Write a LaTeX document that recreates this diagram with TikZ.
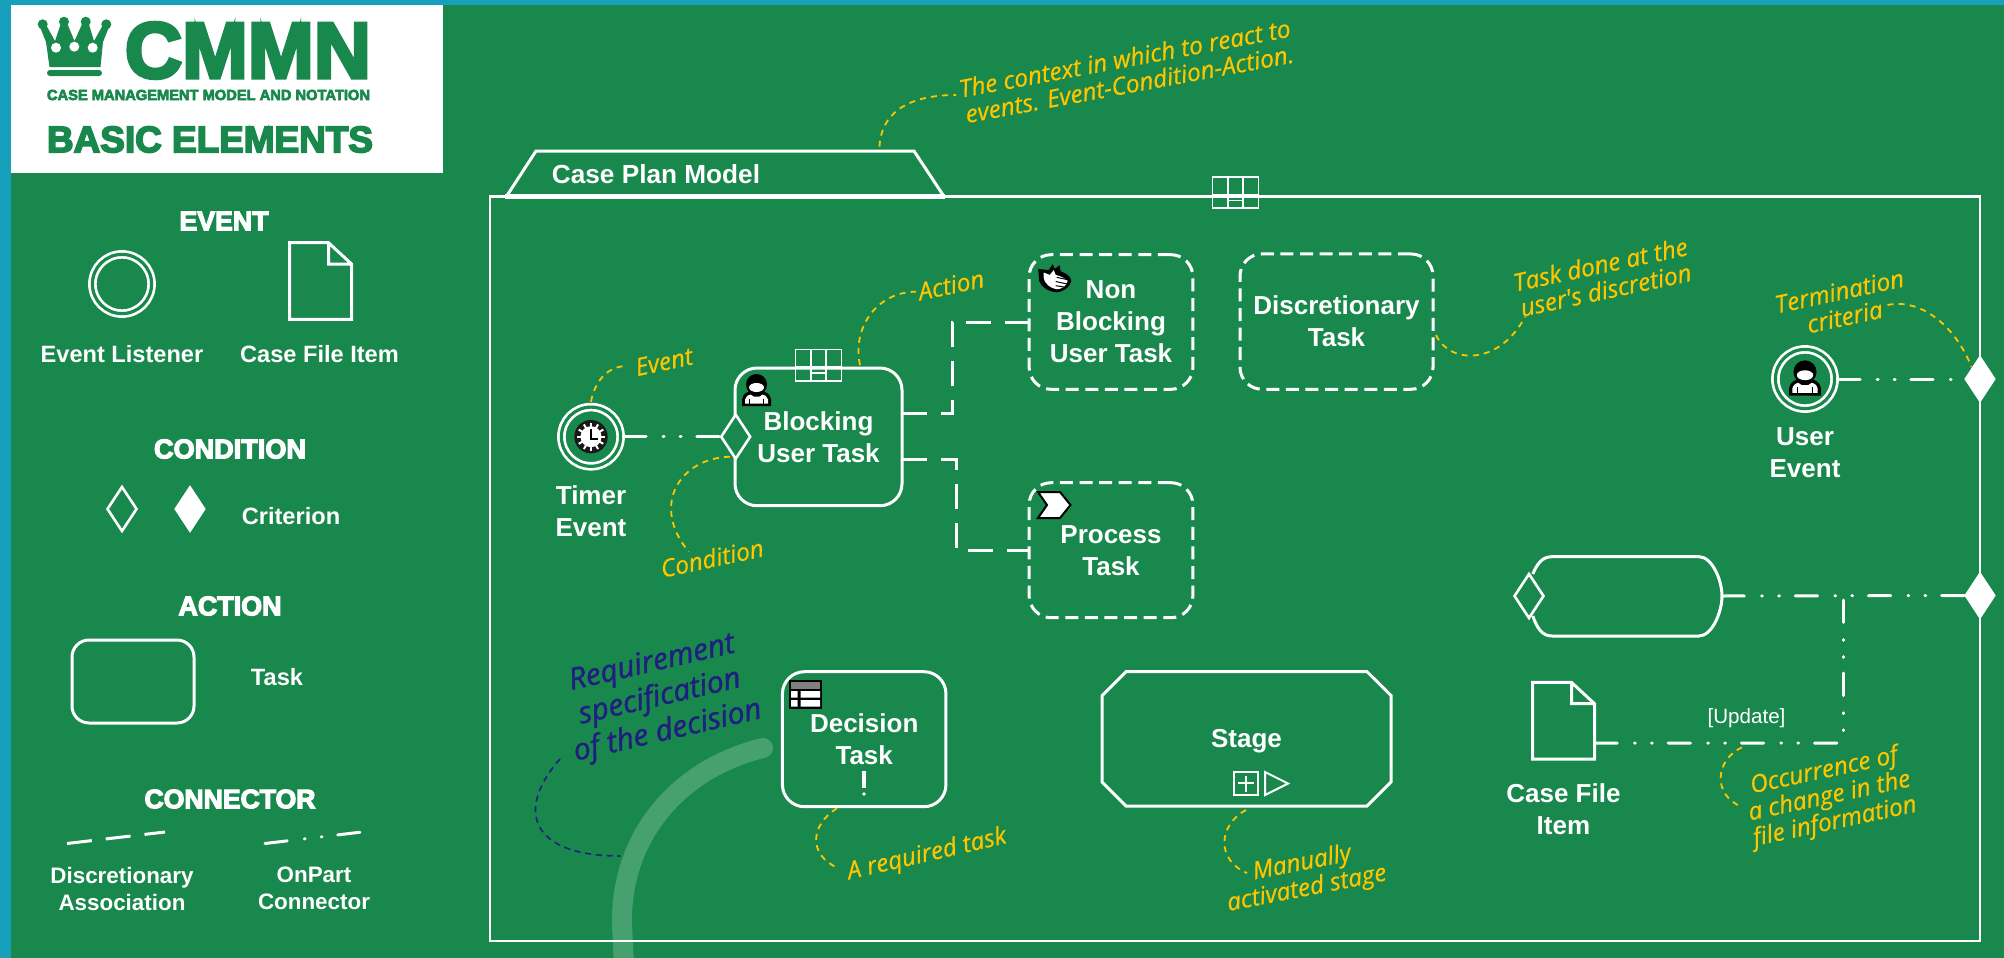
\documentclass[tikz,border=0pt]{standalone}
\usepackage{fontspec}
\usetikzlibrary{shapes.geometric,shapes.misc}
\setmainfont{Liberation Sans}
\newfontfamily\heavyf[FakeBold=4.5]{Liberation Sans Bold}
\newfontfamily\annof[FakeBold=0.5]{Open Sans}
\newfontfamily\annoheavy[FakeBold=1.2]{Open Sans}
\definecolor{bgteal}{RGB}{23,160,187}
\definecolor{bggreen}{RGB}{24,136,76}
\definecolor{arcgreen}{RGB}{70,160,112}
\definecolor{noteyellow}{RGB}{255,198,0}
\definecolor{notenavy}{RGB}{32,30,128}
\newcommand{\heavyfit}[2]{\resizebox{\dimexpr #1pt/2\relax}{!}{\heavyf #2}}
\tikzset{
  sized/.style 2 args={minimum width=#1*0.5pt,minimum height=#2*0.5pt},
  plain/.style={inner sep=0pt,outer sep=0pt,text=white,align=center},
  tasktext/.style={font=\bfseries\fontsize{13}{16}\selectfont},
  legendtext/.style={plain,font=\bfseries\fontsize{11.8}{13.5}\selectfont},
  taskbox/.style={plain,tasktext,draw=white,line width=1.5pt,rounded corners=11pt},
  dashbox/.style={taskbox,dash pattern=on 6.5pt off 3.3pt},
  stagebox/.style={plain,tasktext,draw=white,line width=1.5pt,chamfered rectangle,
    chamfered rectangle xsep=7.5pt,chamfered rectangle ysep=7.5pt,text depth=0pt},
  opencrit/.style={diamond,draw=white,fill=bggreen,line width=1.3pt,inner sep=0pt,outer sep=0pt,sized={29}{44}},
  fullcrit/.style={diamond,draw=white,fill=white,line width=1pt,inner sep=0pt,outer sep=0pt,sized={29}{44}},
  ring/.style={circle,draw=white,double=bggreen,double distance=1.6pt,line width=1.35pt,inner sep=0pt,outer sep=1.5pt,minimum size=29.6pt},
  discline/.style={draw=white,line width=1.5pt,dash pattern=on 12.5pt off 7pt},
  onpart/.style={draw=white,line width=1.5pt,line cap=round,dash pattern=on 11.2pt off 8.6pt on 0.4pt off 8.1pt on 0.4pt off 7.9pt},
  noteline/.style={draw=noteyellow,line width=0.9pt,dash pattern=on 3pt off 2.6pt},
  navyline/.style={draw=notenavy,line width=0.8pt,dash pattern=on 3pt off 2.4pt},
  notetext/.style={inner sep=0pt,outer sep=0pt,align=center,text=noteyellow,font=\annof\itshape\fontsize{12.2}{13}\selectfont,rotate=#1},
  notetext/.default=12,
  navytext/.style={inner sep=0pt,outer sep=0pt,align=center,text=notenavy,font=\annoheavy\itshape\fontsize{15}{17.5}\selectfont,rotate=13},
  tableicon/.pic={
    \draw[white,line width=0.8pt] (-23,-15.7) rectangle (23,15.7)
      (-7.7,-15.7) -- (-7.7,15.7) (7.7,-15.7) -- (7.7,15.7)
      (-23,2) -- (23,2) (-7.7,8) -- (7.7,8);},
  docicon/.pic={
    \draw[white,line width=1.5pt,line join=miter] (-31,-38.3) -- (8,-38.3) -- (31,-17) -- (31,38.3) -- (-31,38.3) -- cycle
      (8,-38.3) -- (8,-17) -- (31,-17);},
  personicon/.pic={
    \fill[black] (-14.5,15.5) -- (-14.5,9) .. controls (-14,3) and (-8,1) .. (-5,0) -- (5,0) .. controls (8,1) and (14,3) .. (14.5,9) -- (14.5,15.5) -- cycle;
    \fill[black] (0,-6) circle [x radius=10.5,y radius=10.5];
    \fill[white] (0,-3) circle [x radius=7.5,y radius=4.5];
    \fill[white] (-11.5,13) -- (-11.5,9) .. controls (-11,6) and (-8,4) .. (-6,4) -- (-3,6) -- (3,6) -- (6,4) .. controls (8,4) and (11,6) .. (11.5,9) -- (11.5,13) -- cycle;
    \draw[black,line width=0.5pt] (-7,8) -- (-7,13) (7,8) -- (7,13);},
  clockicon/.pic={
    \fill[black!90] (0,0) circle (16.7);
    \fill[white] (0,0) circle (10.5);
    \foreach \a in {0,30,...,330} {\draw[white,line width=1pt] (0,0) -- (\a:14.2);}
    \draw[black,line width=1pt,line join=miter] (0,-7.5) -- (0,2) -- (7,2);},
  handicon/.pic={
    \fill[black] (-16.5,-8) -- (-6,-7) -- (-2,-12) -- (0,-8) -- (5,-11) -- (6,-6) .. controls (12,-4) and (16,-2) .. (16.5,2) .. controls (15,8) and (8,11) .. (2,11.5) .. controls (-6,11) and (-14,7) .. (-15.5,2) -- cycle;
    \fill[white] (-11,-5) -- (-5,-3) -- (-1,-7) -- (1,-3) .. controls (6,-2) and (11,0) .. (13,2) .. controls (12,6) and (7,9) .. (2,9) .. controls (-4,8) and (-10,5) .. (-11,-1) -- cycle;
    \draw[black,line width=0.5pt] (2,-1) -- (13,1) (1,2.5) -- (12,4.5) (1,6) -- (9,7);},
  chevronicon/.pic={
    \draw[black,fill=white,line width=1pt,line join=miter] (-16,-13) -- (6,-13) -- (16.5,0) -- (6,13) -- (-16,13) -- (-7,0) -- cycle;},
  decisionicon/.pic={
    \fill[black] (-16.5,-14.5) rectangle (16.5,14.5);
    \fill[gray] (-14.5,-12.5) rectangle (14.5,-5.5);
    \fill[white] (-14.5,-3.5) rectangle (-8,3.2) (-5,-3.5) rectangle (14.5,3.2)
      (-14.5,5.5) rectangle (-8,12.2) (-5,5.5) rectangle (14.5,12.2);},
  crownicon/.pic={
    \fill[bggreen] (49.5,67) -- (46,42) -- (40,27) -- (45,23) -- (55,41) -- (61,23) -- (67,23) -- (74.5,41) -- (82.5,23) -- (88.5,23) -- (94,41) -- (104,23) -- (109,27) -- (103,42) -- (100.5,67) -- cycle;
    \foreach \x/\y in {42.7/24.3,64/21.7,85.7/21.7,106.3/24.3} {\fill[bggreen] (\x,\y) circle (5);}
    \foreach \x/\y in {56/47.7,74.3/46.7,92.7/47.7} {\fill[white] (\x,\y) circle (5);}
    \fill[bggreen,rounded corners=1.5pt] (47,70) rectangle (102,76);},
}
\begin{document}
\begin{tikzpicture}[x=0.5pt,y=-0.5pt]
\useasboundingbox (0,0) rectangle (2004,958);
\fill[bgteal] (0,0) rectangle (2004,958);
\fill[bggreen] (11,5) rectangle (2004,958);
\fill[white] (11,5) rectangle (443,173);
% logo
\pic at (0,0) {crownicon};
\node[inner sep=0pt,text=bggreen] (logo) at (248,50.5) {\heavyfit{246}{CMMN}};
\node[inner sep=0pt,text=bggreen] (logosub) at (208.5,95) {\heavyfit{323}{CASE MANAGEMENT MODEL AND NOTATION}};
\node[inner sep=0pt,text=bggreen] (logotitle) at (210,139.5) {\heavyfit{326}{BASIC ELEMENTS}};
% legend
\node[plain] (hevent) at (224,221) {\heavyfit{89}{EVENT}};
\node[plain] (hcond) at (230,449) {\heavyfit{152}{CONDITION}};
\node[plain] (haction) at (230,606) {\heavyfit{103}{ACTION}};
\node[plain] (hconn) at (230,799) {\heavyfit{171}{CONNECTOR}};
\node[ring] (lgevent) at (122,284) {};
\node[inner sep=0pt,sized={62}{77}] (lgdoc) at (320.5,281) {};
\pic at (lgdoc) {docicon};
\node[legendtext] (lgeventtxt) at (122,354.5) {Event Listener};
\node[legendtext] (lgdoctxt) at (319.5,354.5) {Case File Item};
\node[opencrit] (lgopen) at (122,509) {};
\node[fullcrit] (lgfull) at (190,509) {};
\node[legendtext] (lgcrit) at (291,516) {Criterion};
\node[taskbox,sized={122}{83},rounded corners=8.5pt] (lgtask) at (133,681.5) {};
\node[legendtext] (lgtasktxt) at (277,677) {Task};
\coordinate (da) at (67,843.5); \coordinate (db) at (165,832);
\coordinate (oa) at (265,843.5); \coordinate (ob) at (362,832);
\draw[discline] (da) -- (db);
\draw[onpart] (oa) -- (ob);
\node[legendtext,font=\bfseries\fontsize{11.2}{13.5}\selectfont] (lgdisc) at (122,888.5) {Discretionary\\Association};
\node[legendtext,font=\bfseries\fontsize{11.2}{13.5}\selectfont] (lgon) at (314,888.5) {OnPart\\Connector};
% grey arc
\coordinate (arca) at (763,748); \coordinate (arcb) at (624,965);
\draw[arcgreen,line width=10pt,line cap=round] (arca) .. controls (680,768) and (620,835) .. (622,925) -- (arcb);
% case plan model
\draw[white,line width=1.2pt] (490,941) rectangle (1980,196.5);
\draw[white,line width=1.5pt,line join=miter] (506.4,196.5) -- (536,151) -- (914,151) -- (944,196.5);
\draw[white,line width=2.5pt] (505,196.5) -- (945,196.5);
\node[plain,font=\bfseries\fontsize{13.1}{16}\selectfont] (tab) at (656,174) {Case Plan Model};
\pic at (1235.5,192.5) {tableicon};
% tasks
\node[ring] (timer) at (591,436.7) {};
\pic at (timer) {clockicon};
\node[plain,tasktext] (timertxt) at (591,511) {Timer\\Event};
\node[taskbox,sized={167}{137.7}] (block) at (818.5,436.85) {Blocking\\User Task};
\pic at (818.4,365) {tableicon};
\pic at (756.5,390.5) {personicon};
\node[opencrit] (blockcrit) at (735.7,436.7) {};
\draw[onpart] (timer.east) -- (blockcrit.west);
\node[dashbox,sized={163.8}{134.6}] (nonblock) at (1111,322) {Non\\Blocking\\User Task};
\pic[yscale=1.2] at (1054.7,278.5) {handicon};
\node[dashbox,sized={163.8}{135}] (process) at (1111,550.2) {Process\\Task};
\pic at (1054,505) {chevronicon};
\node[dashbox,sized={193}{135.3}] (discr) at (1336.5,321.6) {Discretionary\\Task};
\draw[discline] ([yshift=11.5pt]block.east) -| ([xshift=-38.5pt]nonblock.west) |- (nonblock.west);
\draw[discline] ([yshift=-11.5pt]block.east) -| ([xshift=-36.5pt]process.west) |- (process.west);
\node[taskbox,sized={163.5}{135}] (decision) at (864.2,739.2) {Decision\\Task};
\pic at (805.5,694.5) {decisionicon};
\draw[white,line width=1.7pt] (864,770.7) -- (864,788);
\fill[white] (864,794) circle (1.8);
\node[stagebox,sized={289}{134.5}] (stage) at (1246.5,738.8) {Stage};
\draw[white,line width=1pt] (1234,771.7) rectangle (1258,795) (1238,783.4) -- (1254,783.4) (1246,775.5) -- (1246,791.5);
\draw[white,line width=1pt,line join=miter] (1265,772) -- (1288,783.5) -- (1265,795) -- cycle;
% right side
\node[ring] (userev) at (1805,379) {};
\pic[scale=1.1] at (1805,378.5) {personicon};
\node[plain,tasktext] (usertxt) at (1805,453) {User\\Event};
\node[fullcrit] (crit1) at (1980,379) {};
\node[fullcrit] (crit2) at (1980,595.5) {};
\draw[onpart] (userev.east) -- (crit1.west);
\coordinate (barrelw) at (1532.8,574); \coordinate (barrelsw) at (1532.8,616);
\coordinate (barrele) at (1722,596);
\draw[white,line width=1.5pt] (barrelw) .. controls (1537,564) and (1542,556.7) .. (1552,556.7) -- (1699,556.7) .. controls (1712,556.7) and (1722,580) .. (barrele) .. controls (1722,612) and (1712,636) .. (1699,636) -- (1552,636) .. controls (1542,636) and (1537,628) .. (barrelsw);
\node[opencrit] (barrelcrit) at (1529,596) {};
\draw[onpart] (barrele) -- (crit2.west);
\coordinate (vta) at (1843.6,600); \coordinate (vtb) at (1843.6,731.7);
\draw[onpart] (vta) -- (vtb);
\node[inner sep=0pt,sized={62}{77}] (cfi) at (1563.5,720.7) {};
\pic at (cfi) {docicon};
\coordinate (hz) at (1840,743);
\draw[onpart] ([yshift=-11.2pt]cfi.east) -- (hz);
\node[plain,tasktext] (cfitxt) at (1563.4,809) {Case File\\Item};
\node[plain,font=\fontsize{10.3}{12}\selectfont] (update) at (1746.5,718) {[Update]};
% notes
\node[notetext=10.5] (n1) at (1127,71) {The context in which to react to\\events. Event-Condition-Action.};
\coordinate (n1a) at (879.5,146.7); \coordinate (n1b) at (956,95);
\draw[noteline] (n1a) .. controls (881,115) and (905,95) .. (n1b);
\node[notetext] (n2) at (664,361.7) {Event};
\coordinate (n2a) at (591,401.7); \coordinate (n2b) at (627,366);
\draw[noteline] (n2a) .. controls (594,385) and (605,366) .. (n2b);
\node[notetext] (n3) at (951,285) {Action};
\coordinate (n3a) at (860,365); \coordinate (n3b) at (916,291.7);
\draw[noteline] (n3a) .. controls (852,330) and (875,292) .. (n3b);
\node[notetext] (n4) at (712,558) {Condition};
\coordinate (n4a) at (730,456.7); \coordinate (n4b) at (688.7,551.7);
\draw[noteline] (n4a) .. controls (680,458) and (650,505) .. (n4b);
\node[notetext] (n5) at (1603,277) {Task done at the\\user's discretion};
\coordinate (n5a) at (1436,335); \coordinate (n5b) at (1525,316.7);
\draw[noteline] (n5a) .. controls (1450,365) and (1500,365) .. (n5b);
\node[notetext] (n6) at (1842,304) {Termination\\criteria};
\coordinate (n6a) at (1887.5,305); \coordinate (n6b) at (1971.5,367);
\draw[noteline] (n6a) .. controls (1920,298) and (1955,325) .. (n6b);
\node[notetext] (n7) at (1829.6,797) {Occurrence of\\a change in the\\file information};
\coordinate (n7a) at (1742,747.3); \coordinate (n7b) at (1742,807);
\draw[noteline] (n7a) .. controls (1715,760) and (1712,795) .. (n7b);
\node[navytext] (n8) at (660,698) {Requirement\\specification\\of the decision};
\coordinate (n8a) at (560,759); \coordinate (n8b) at (620.4,856);
\draw[navyline] (n8a) .. controls (515,810) and (530,856) .. (n8b);
\node[notetext=13] (n9) at (927,855) {A required task};
\coordinate (n9a) at (837,808.3); \coordinate (n9b) at (838,868);
\draw[noteline] (n9a) .. controls (810,825) and (808,855) .. (n9b);
\node[notetext=11] (n10) at (1304.5,876.5) {Manually\\activated stage};
\coordinate (n10a) at (1246,810); \coordinate (n10b) at (1247,873);
\draw[noteline] (n10a) .. controls (1218,825) and (1216,860) .. (n10b);
\end{tikzpicture}
\end{document}
